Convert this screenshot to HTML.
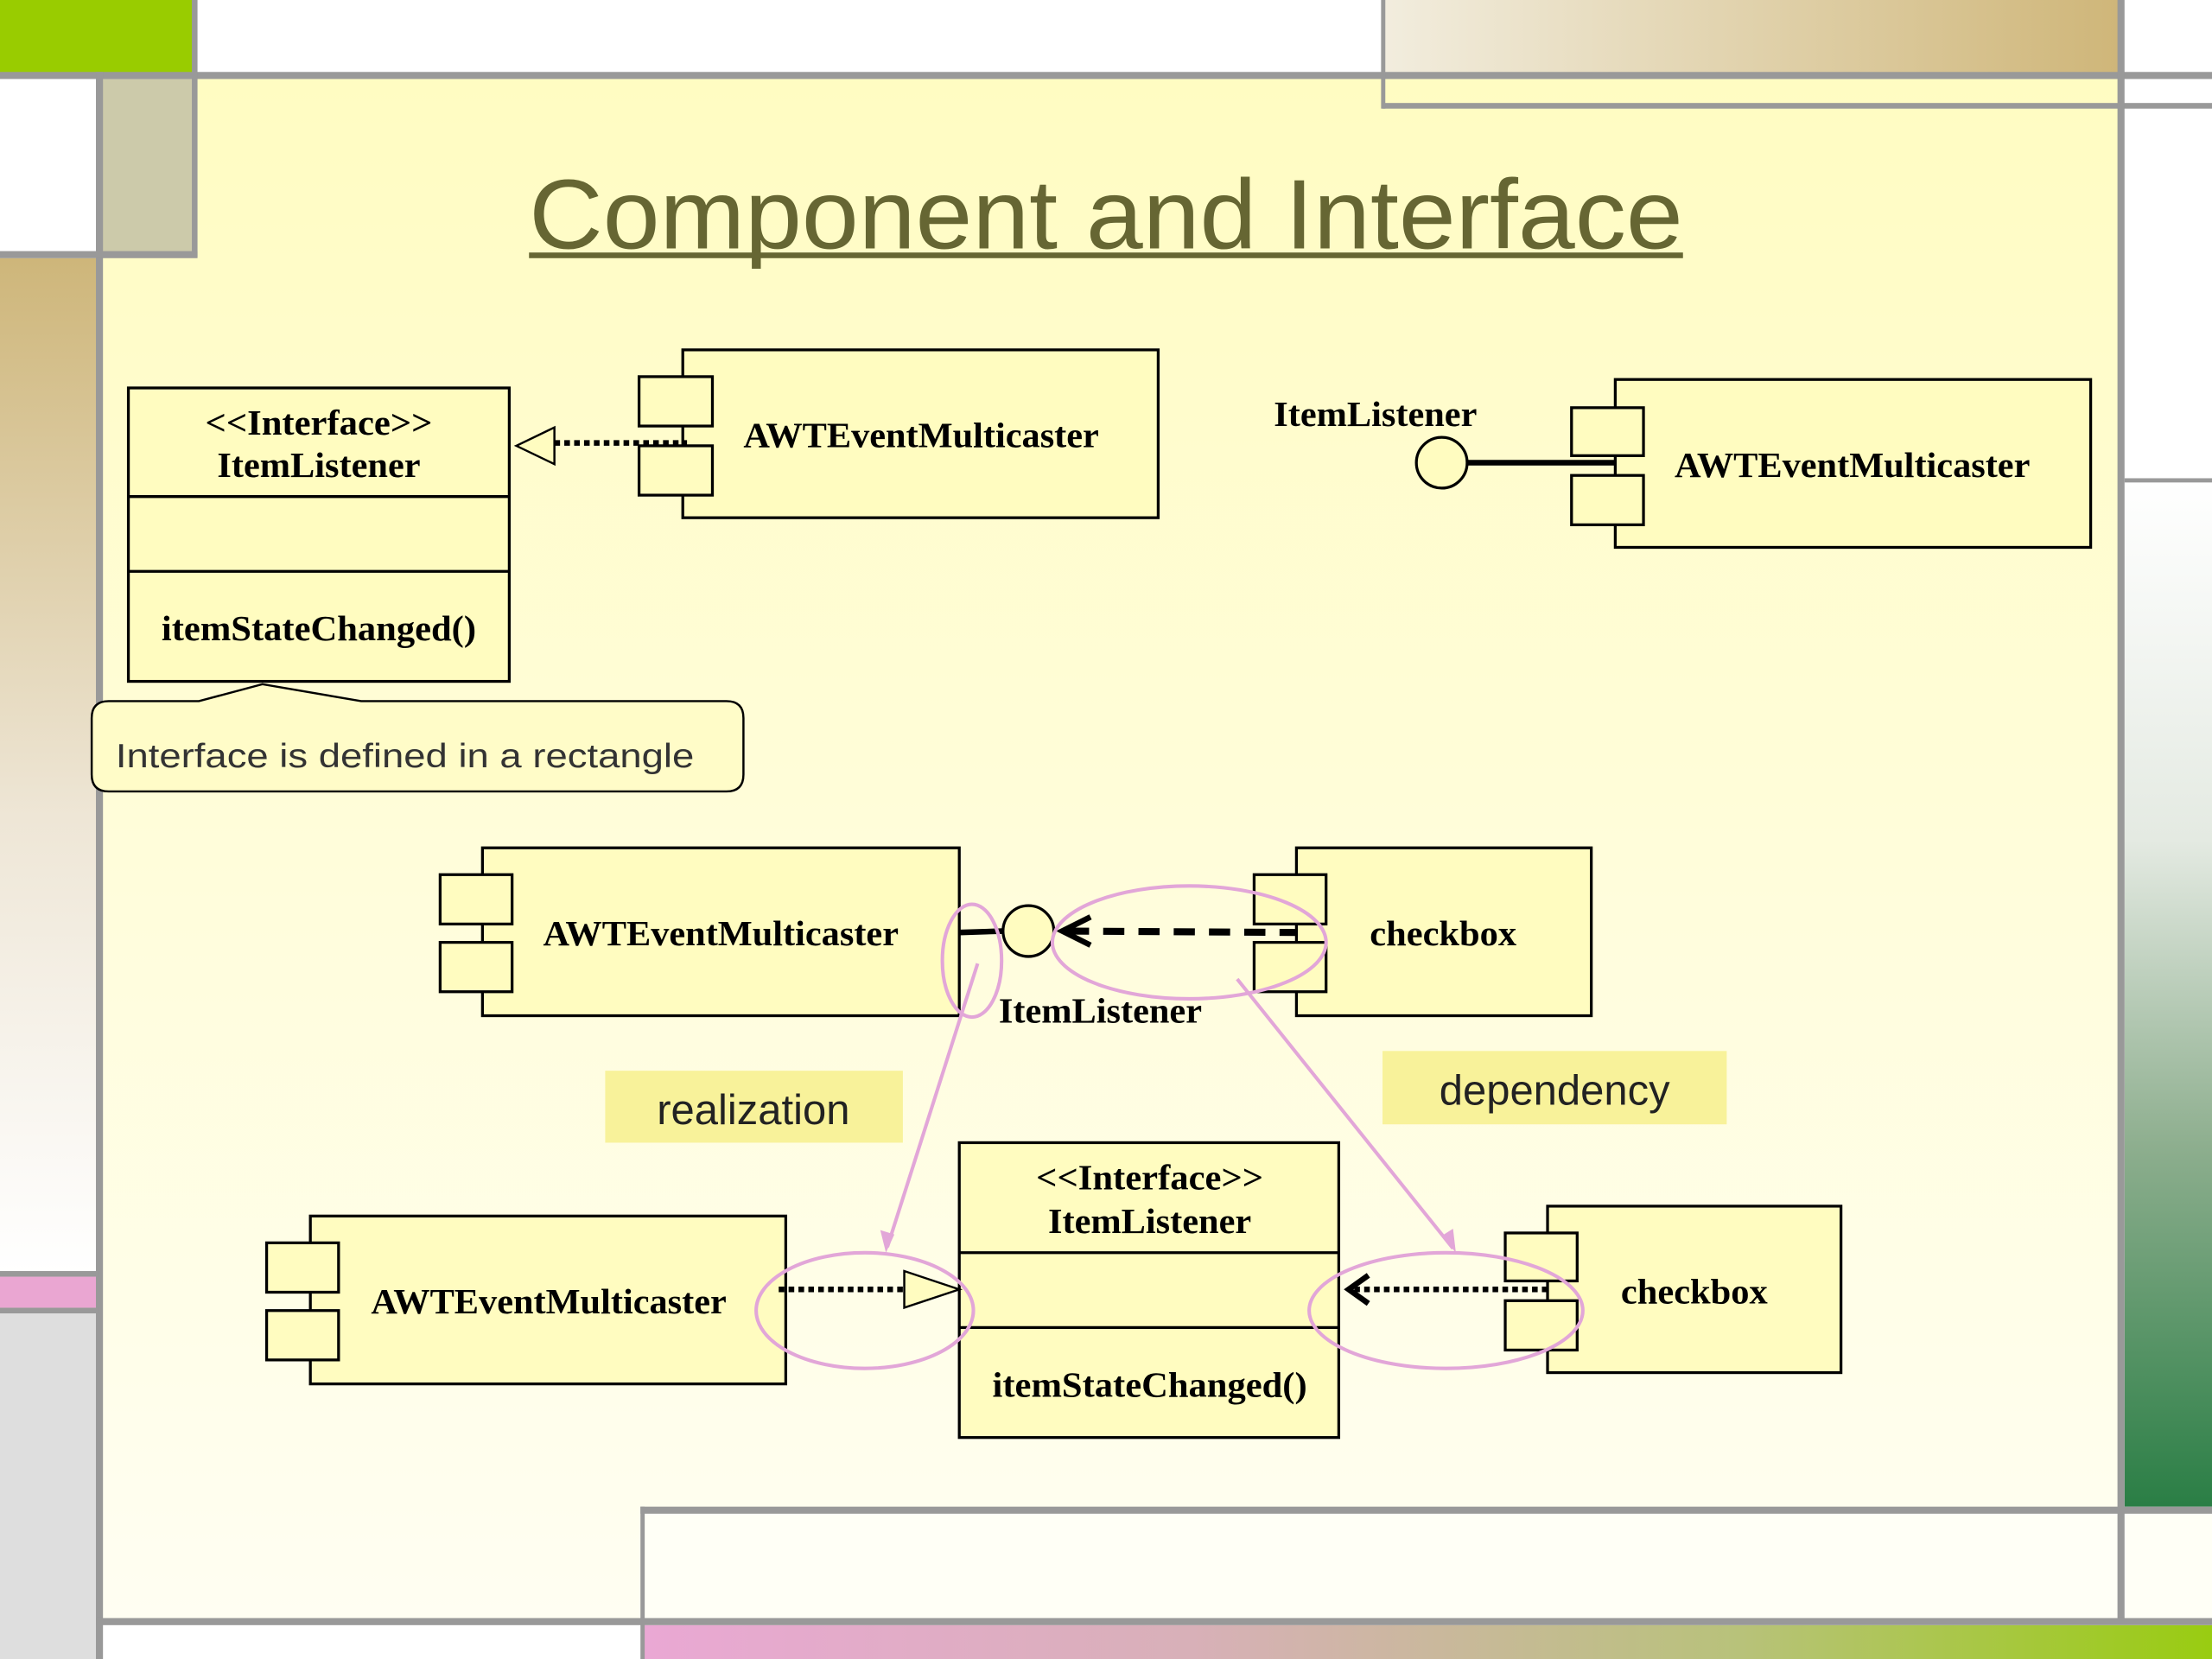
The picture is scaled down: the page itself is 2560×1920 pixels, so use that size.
<!DOCTYPE html>
<html><head><meta charset="utf-8"><style>html,body{margin:0;padding:0;background:#fff}svg{display:block}</style></head>
<body>
<svg width="2560" height="1920" viewBox="0 0 1568 1176" xmlns="http://www.w3.org/2000/svg">
<defs>
<linearGradient id="bg" x1="0" y1="0" x2="0" y2="1"><stop offset="0" stop-color="#FFFCC2"/><stop offset="1" stop-color="#FFFEF2"/></linearGradient>
<linearGradient id="tr" x1="0" y1="0" x2="1" y2="0"><stop offset="0" stop-color="#F2EDDE"/><stop offset="1" stop-color="#CFB679"/></linearGradient>
<linearGradient id="lt" x1="0" y1="0" x2="0" y2="1"><stop offset="0" stop-color="#CEB67A"/><stop offset="0.55" stop-color="#EEE6D6"/><stop offset="1" stop-color="#FFFFFF"/></linearGradient>
<linearGradient id="rg" x1="0" y1="0" x2="0" y2="1"><stop offset="0" stop-color="#FFFFFF"/><stop offset="0.35" stop-color="#E4EAE2"/><stop offset="0.65" stop-color="#8DAE8E"/><stop offset="1" stop-color="#2A7E45"/></linearGradient>
<linearGradient id="bt" x1="0" y1="0" x2="1" y2="0"><stop offset="0" stop-color="#EAA8D4"/><stop offset="0.35" stop-color="#D8B0B8"/><stop offset="0.7" stop-color="#B8C27A"/><stop offset="1" stop-color="#99CC11"/></linearGradient>
</defs>
<rect width="1568" height="1176" fill="#fff"/>
<rect x="70" y="55" width="1433" height="1095" fill="url(#bg)"/>
<rect x="455" y="1072" width="1048" height="76" fill="#FFFFF6"/>
<rect x="0" y="0" width="137" height="52" fill="#99CC00"/>
<rect x="70" y="55" width="68" height="124" fill="#CCCAAA"/>
<rect x="980" y="0" width="523" height="52" fill="url(#tr)"/>
<rect x="0" y="183" width="68" height="720" fill="url(#lt)"/>
<rect x="0" y="905" width="68" height="22" fill="#EAA6D2"/>
<rect x="0" y="930" width="68" height="246" fill="#DEDEDE"/>
<rect x="1506" y="341" width="62" height="727" fill="url(#rg)"/>
<rect x="455" y="1152" width="1113" height="24" fill="url(#bt)"/>
<rect x="1506" y="1072" width="62" height="76" fill="#FFFFF6"/>
<g fill="#999">
<rect x="0" y="51" width="1568" height="5"/>
<rect x="980" y="73" width="588" height="4"/>
<rect x="979" y="0" width="3" height="77"/>
<rect x="1501" y="0" width="5" height="1150"/>
<rect x="1506" y="339" width="62" height="3"/>
<rect x="68" y="51" width="5" height="1125"/>
<rect x="136" y="0" width="4" height="182"/>
<rect x="0" y="178" width="140" height="5"/>
<rect x="0" y="901" width="70" height="4"/>
<rect x="0" y="927" width="70" height="4"/>
<rect x="454" y="1068" width="1114" height="5"/>
<rect x="454" y="1068" width="3" height="108"/>
<rect x="68" y="1147" width="1500" height="5"/>
</g>
<text x="784" y="176" text-anchor="middle" font-family="Liberation Sans, sans-serif" font-size="70" fill="#666633" textLength="818" lengthAdjust="spacingAndGlyphs">Component and Interface</text>
<rect x="375" y="179" width="818" height="4" fill="#666633"/>

<g stroke="#000" stroke-width="2" fill="#FFFCC0">
<rect x="91" y="275" width="270" height="208"/>
<line x1="91" y1="352" x2="361" y2="352"/><line x1="91" y1="405" x2="361" y2="405"/>
<rect x="484" y="248" width="337" height="119"/>
<rect x="453" y="267" width="52" height="35"/><rect x="453" y="316" width="52" height="35"/>
<rect x="1145" y="269" width="337" height="119"/>
<rect x="1114" y="289" width="51" height="34"/><rect x="1114" y="337" width="51" height="35"/>
<circle cx="1022" cy="328" r="18"/>
<rect x="342" y="601" width="338" height="119"/>
<rect x="312" y="620" width="51" height="35"/><rect x="312" y="668" width="51" height="35"/>
<rect x="919" y="601" width="209" height="119"/>
<rect x="889" y="620" width="51" height="35"/><rect x="889" y="668" width="51" height="35"/>
<circle cx="729" cy="660" r="18"/>
<rect x="680" y="810" width="269" height="209"/>
<line x1="680" y1="888" x2="949" y2="888"/><line x1="680" y1="941" x2="949" y2="941"/>
<rect x="220" y="862" width="337" height="119"/>
<rect x="189" y="881" width="51" height="35"/><rect x="189" y="929" width="51" height="35"/>
<rect x="1097" y="855" width="208" height="118"/>
<rect x="1067" y="874" width="51" height="34"/><rect x="1067" y="922" width="51" height="35"/>
</g>
<g fill="none" stroke="#000">
<line x1="393" y1="314" x2="487" y2="314" stroke-width="4" stroke-dasharray="4 3"/>
<polygon points="366,316 393,303 393,329" fill="#FFFCC0" stroke-width="1.5"/>
<line x1="1040" y1="328" x2="1145" y2="328" stroke-width="4"/>
<line x1="680" y1="661" x2="711" y2="660" stroke-width="4"/>
<line x1="757" y1="660" x2="920" y2="661" stroke-width="5" stroke-dasharray="15 10"/>
<polyline points="773,650 753,660 773,670" stroke-width="4"/>
<line x1="552" y1="914" x2="641" y2="914" stroke-width="4" stroke-dasharray="4 3"/>
<polygon points="680,914 641,901 641,927" fill="#FFFCC0" stroke-width="1.5"/>
<line x1="960" y1="914" x2="1097" y2="914" stroke-width="4" stroke-dasharray="4 3"/>
<polyline points="970,904 956,914 970,924" stroke-width="4"/>
</g>
<path d="M77,497 H141 L186,485 L256,497 H515 Q527,497 527,509 V549 Q527,561 515,561 H77 Q65,561 65,549 V509 Q65,497 77,497 Z" fill="#FFFCC8" stroke="#000" stroke-width="1.5"/>
<text x="82" y="544" font-family="Liberation Sans, sans-serif" font-size="24" fill="#333" textLength="410" lengthAdjust="spacingAndGlyphs">Interface is defined in a rectangle</text>
<rect x="429" y="759" width="211" height="51" fill="#F8F29A"/>
<text x="534" y="797" text-anchor="middle" font-family="Liberation Sans, sans-serif" font-size="30" fill="#222">realization</text>
<rect x="980" y="745" width="244" height="52" fill="#F8F29A"/>
<text x="1102" y="783" text-anchor="middle" font-family="Liberation Sans, sans-serif" font-size="30" fill="#222">dependency</text>
<g fill="none" stroke="#E2A6D8" stroke-width="2.5">
<ellipse cx="689" cy="681" rx="21" ry="40"/>
<ellipse cx="843" cy="668" rx="97" ry="40"/>
<ellipse cx="613" cy="929" rx="77" ry="41"/>
<ellipse cx="1025" cy="929" rx="97" ry="41"/>
<line x1="693" y1="683" x2="629" y2="884"/>
<line x1="877" y1="694" x2="1030" y2="885"/>
</g>
<g fill="#E2A6D8">
<polygon points="628,888 624,872 634,875"/>
<polygon points="1032,888 1022,876 1030,871"/>
</g>
<g font-family="Liberation Serif, serif" font-weight="bold" font-size="25" fill="#000" text-anchor="middle" lengthAdjust="spacingAndGlyphs">
<text x="226" y="308" textLength="161" lengthAdjust="spacingAndGlyphs">&lt;&lt;Interface&gt;&gt;</text>
<text x="226" y="338" textLength="144" lengthAdjust="spacingAndGlyphs">ItemListener</text>
<text x="226" y="454" textLength="223" lengthAdjust="spacingAndGlyphs">itemStateChanged()</text>
<text x="653" y="317" textLength="252" lengthAdjust="spacingAndGlyphs">AWTEventMulticaster</text>
<text x="975" y="302" textLength="144" lengthAdjust="spacingAndGlyphs">ItemListener</text>
<text x="1313" y="338" textLength="252" lengthAdjust="spacingAndGlyphs">AWTEventMulticaster</text>
<text x="511" y="670" textLength="252" lengthAdjust="spacingAndGlyphs">AWTEventMulticaster</text>
<text x="1023" y="670" textLength="104" lengthAdjust="spacingAndGlyphs">checkbox</text>
<text x="780" y="725" textLength="144" lengthAdjust="spacingAndGlyphs">ItemListener</text>
<text x="815" y="843" textLength="161" lengthAdjust="spacingAndGlyphs">&lt;&lt;Interface&gt;&gt;</text>
<text x="815" y="874" textLength="144" lengthAdjust="spacingAndGlyphs">ItemListener</text>
<text x="815" y="990" textLength="223" lengthAdjust="spacingAndGlyphs">itemStateChanged()</text>
<text x="389" y="931" textLength="252" lengthAdjust="spacingAndGlyphs">AWTEventMulticaster</text>
<text x="1201" y="924" textLength="104" lengthAdjust="spacingAndGlyphs">checkbox</text>
</g>
</svg>
</body></html>
